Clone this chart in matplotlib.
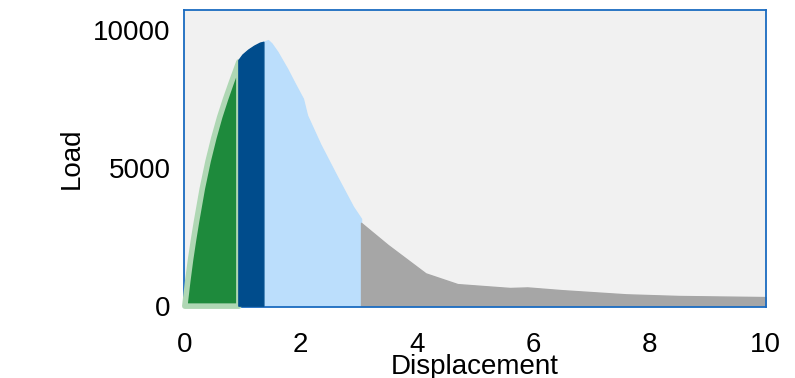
import matplotlib
matplotlib.use('Agg')
import matplotlib.pyplot as plt
import numpy as np

plt.rcParams['font.family'] = ['Liberation Sans', 'DejaVu Sans']

# Load-displacement curve, split into the four stages of the response
elastic_disp = [0.0, 0.05, 0.1, 0.15, 0.2, 0.3, 0.4, 0.5, 0.6, 0.7, 0.8, 0.93]
elastic_load = [0, 900, 1700, 2400, 3050, 4250, 5250, 6100, 6850, 7500, 8100, 8850]

hardening_disp = [0.93, 1.0, 1.1, 1.2, 1.3, 1.36]
hardening_load = [8900, 9100, 9280, 9420, 9530, 9560]

softening_disp = [1.36, 1.44, 1.5, 1.6, 1.77, 1.9, 2.04, 2.11, 2.34, 2.63, 2.9, 3.04]
softening_load = [9560, 9620, 9500, 9200, 8580, 8050, 7500, 6900, 5840, 4660, 3590, 3150]

residual_disp = [3.04, 3.5, 4.15, 4.7, 5.6, 5.9, 6.5, 7.6, 8.5, 10.0]
residual_load = [3000, 2200, 1170, 780, 640, 660, 560, 410, 350, 310]

fig = plt.figure(figsize=(7.95, 3.78), dpi=100)
ax = fig.add_axes([184.3 / 795, 1 - 307.3 / 378, (765.7 - 184.3) / 795, (307.3 - 9.5) / 378])
ax.set_facecolor('#f1f1f1')

ax.fill_between(elastic_disp, elastic_load, 0, facecolor='#1e8a3c',
                edgecolor='#afd7b4', linewidth=4, joinstyle='round', clip_on=False, zorder=3)
ax.fill_between(hardening_disp, hardening_load, 0, facecolor='#004c8c',
                edgecolor='#004c8c', linewidth=1, zorder=3)
ax.fill_between(softening_disp, softening_load, 0, facecolor='#bbdefc',
                edgecolor='#bbdefc', linewidth=1, zorder=2)
ax.fill_between(residual_disp, residual_load, 0, facecolor='#a6a6a6',
                edgecolor='#a6a6a6', linewidth=1, zorder=2)

ax.set_xlim(0, 10)
ax.set_ylim(-60, 10730)
ax.set_xticks([0, 2, 4, 6, 8, 10])
ax.set_yticks([0, 5000, 10000])
ax.tick_params(axis='both', length=0, labelsize=20)
ax.tick_params(axis='x', pad=18)
ax.tick_params(axis='y', pad=10)

for spine in ax.spines.values():
    spine.set_color('#1a6bc0')
    spine.set_linewidth(1.3)

ax.set_xlabel('Displacement', fontsize=20, labelpad=-3)
ax.set_ylabel('Load', fontsize=20, labelpad=6)

fig.savefig('out.png', dpi=100)
